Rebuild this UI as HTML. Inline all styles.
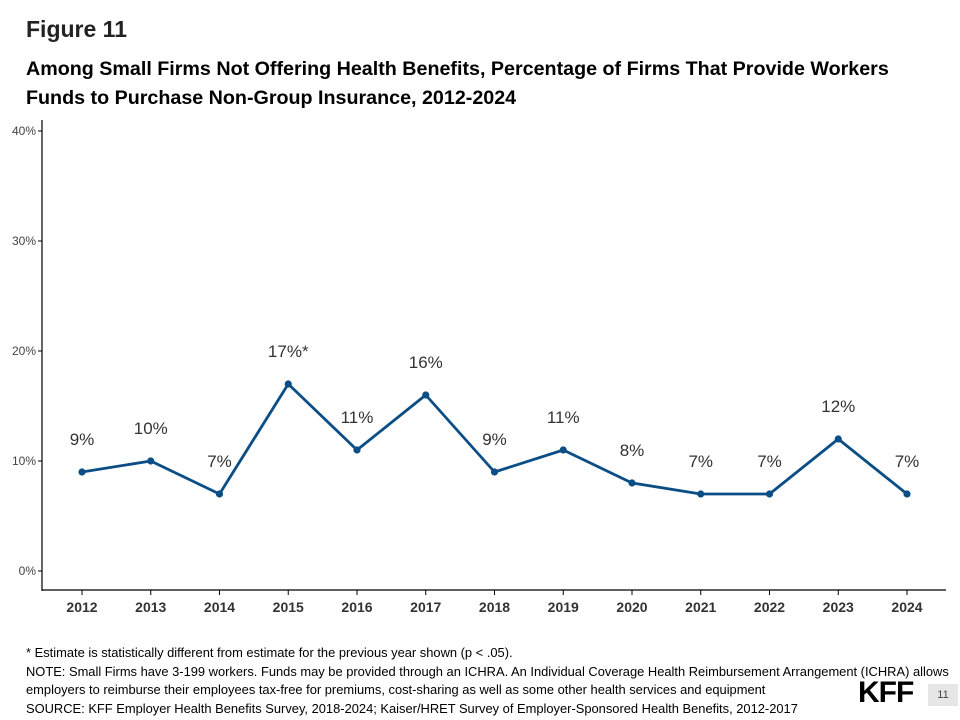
<!DOCTYPE html>
<html><head><meta charset="utf-8"><style>
body{margin:0;width:960px;height:720px;background:#fff;font-family:"Liberation Sans",Arial,sans-serif;position:relative;overflow:hidden}
.t{position:absolute;white-space:nowrap;color:#000}
</style></head><body>
<div class="t" style="left:26px;top:16px;font-size:23px;font-weight:bold;color:#222">Figure 11</div>
<div class="t" style="left:26px;top:55px;font-size:19.7px;font-weight:bold;line-height:29px">Among Small Firms Not Offering Health Benefits, Percentage of Firms That Provide Workers<br>Funds to Purchase Non-Group Insurance, 2012-2024</div>
<svg id="chart" width="960" height="720" style="position:absolute;left:0;top:0"></svg>
<div class="t" style="left:26px;top:644px;font-size:12.9px;line-height:18.5px">* Estimate is statistically different from estimate for the previous year shown (p &lt; .05).<br>NOTE: Small Firms have 3-199 workers. Funds may be provided through an ICHRA. An Individual Coverage Health Reimbursement Arrangement (ICHRA) allows<br>employers to reimburse their employees tax-free for premiums, cost-sharing as well as some other health services and equipment<br>SOURCE: KFF Employer Health Benefits Survey, 2018-2024; Kaiser/HRET Survey of Employer-Sponsored Health Benefits, 2012-2017</div>
<div class="t" style="left:858px;top:676px;font-size:30px;font-weight:bold;letter-spacing:-1px">KFF</div>
<div class="t" style="left:928px;top:684px;width:30px;height:22px;background:#e6e6e6;font-size:11px;text-align:center;line-height:22px;color:#444">11</div>
<script>
const years=["2012","2013","2014","2015","2016","2017","2018","2019","2020","2021","2022","2023","2024"];
const values=[9,10,7,17,11,16,9,11,8,7,7,12,7];
const labels=["9%","10%","7%","17%*","11%","16%","9%","11%","8%","7%","7%","12%","7%"];
const yTicks=[0,10,20,30,40];
const svg=document.getElementById('chart');const NS='http://www.w3.org/2000/svg';
const x=i=>82+i*(907-82)/(years.length-1);
const y=v=>571-v*11;
function mk(t,a,txt){const e=document.createElementNS(NS,t);for(const k in a)e.setAttribute(k,a[k]);if(txt!==undefined)e.textContent=txt;svg.appendChild(e);return e;}
let e=mk('line',{x1:42,y1:120,x2:42,y2:591,stroke:'#000','stroke-width':1.2});


e=mk('line',{x1:42,y1:590,x2:946,y2:590,stroke:'#000','stroke-width':1.2});


yTicks.forEach(v=>{
 e=mk('text',{x:36,y:y(v)+4,'text-anchor':'end','font-size':12,fill:'#444','font-family':'Liberation Sans'},v+'%');
 
 
 mk('line',{x1:38,y1:y(v),x2:42,y2:y(v),stroke:'#000'});
});
years.forEach((yr,i)=>{
 mk('line',{x1:x(i),y1:590,x2:x(i),y2:595,stroke:'#000'});
 e=mk('text',{x:x(i),y:612,'text-anchor':'middle','font-size':14,'font-weight':'bold',fill:'#333','font-family':'Liberation Sans'},yr);
 
 
});
e=mk('polyline',{points:values.map((v,i)=>x(i)+','+y(v)).join(' '),fill:'none',stroke:'#0b4d85','stroke-width':2.8,'stroke-linejoin':'round'});


values.forEach((v,i)=>{
 e=mk('circle',{cx:x(i),cy:y(v),r:3.6,fill:'#0b4d85'});
 
 
 e=mk('text',{x:x(i),y:y(v)-27,'text-anchor':'middle','font-size':17,fill:'#333','font-family':'Liberation Sans'},labels[i]);
 
 
});
</script>
</body></html>
